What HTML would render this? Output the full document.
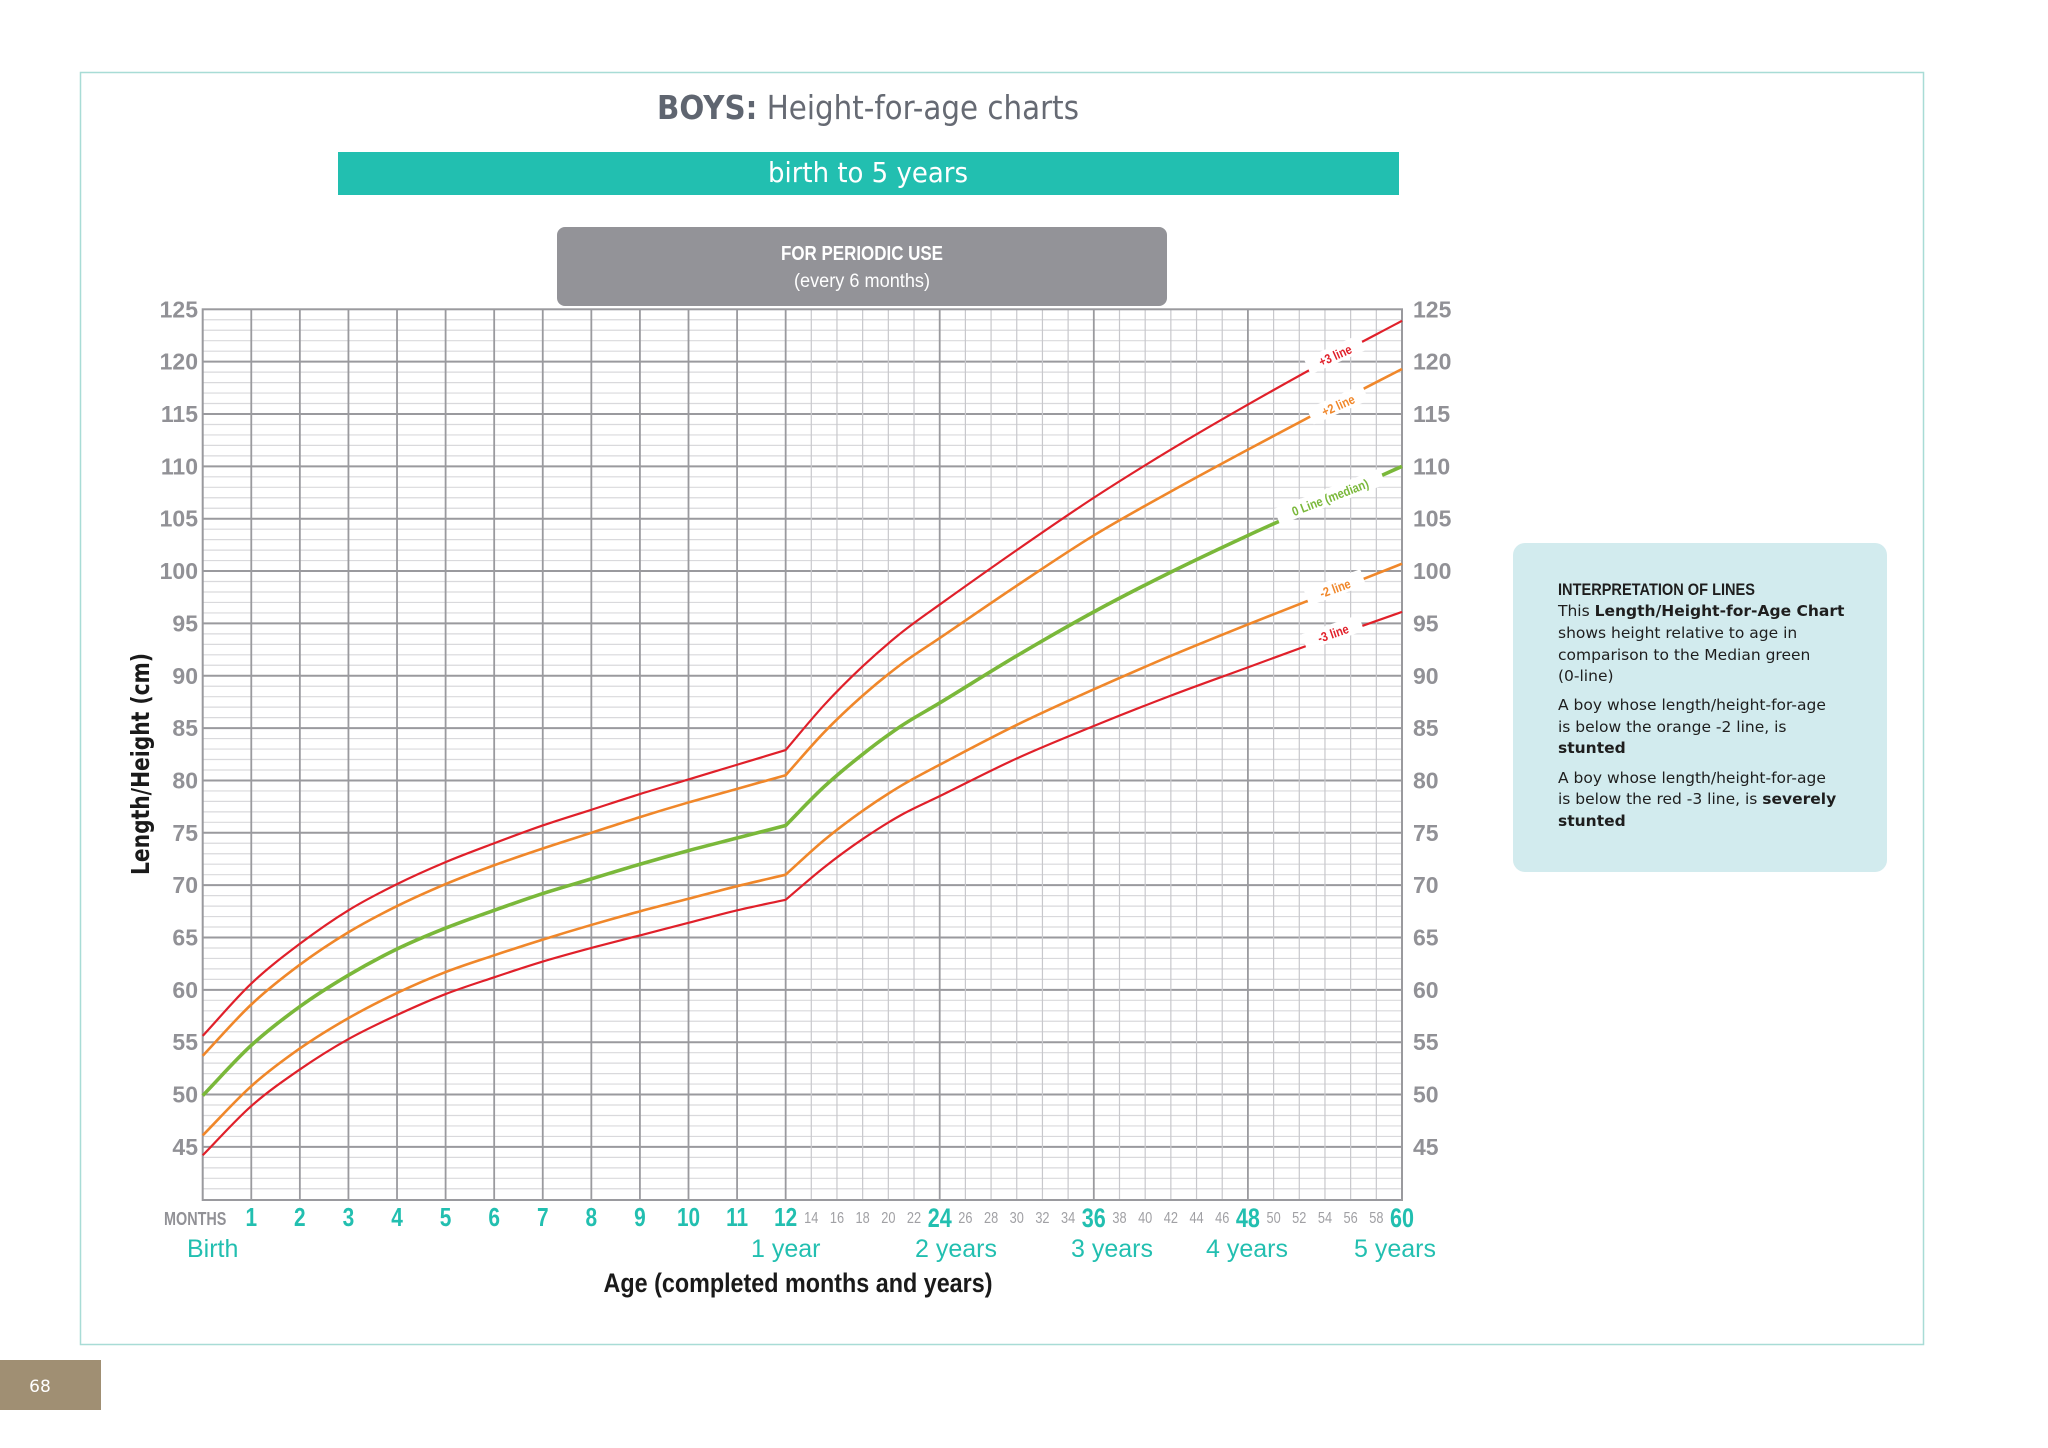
<!DOCTYPE html>
<html><head><meta charset="utf-8"><style>
html,body{margin:0;padding:0;background:#fff;width:2048px;height:1448px;overflow:hidden}
svg{display:block}
.cn{font-family:"Liberation Sans Narrow","Liberation Sans",sans-serif}
.ls{font-family:"Liberation Sans",sans-serif}
.dv{font-family:"DejaVu Sans","Liberation Sans",sans-serif}
</style></head><body>
<svg id="s" width="2048" height="1448" viewBox="0 0 2048 1448" xmlns="http://www.w3.org/2000/svg">
<rect x="80.5" y="72.5" width="1843" height="1272" fill="none" stroke="#a8dcd6" stroke-width="1.5"/>
<text x="657" y="119" font-size="33" fill="#666a73" class="dv" textLength="422" lengthAdjust="spacingAndGlyphs"><tspan font-weight="bold" fill="#5f6570">BOYS:</tspan> Height-for-age charts</text>
<rect x="338" y="152" width="1061" height="43" fill="#22bfb0"/>
<text x="868" y="182" text-anchor="middle" font-size="28" fill="#fff" class="dv" textLength="200" lengthAdjust="spacingAndGlyphs">birth to 5 years</text>
<rect x="557" y="227" width="610" height="79" rx="8" fill="#939398"/>
<text x="862" y="260" text-anchor="middle" font-size="20" font-weight="bold" fill="#fff" class="cn" textLength="162" lengthAdjust="spacingAndGlyphs">FOR PERIODIC USE</text>
<text x="862" y="287" text-anchor="middle" font-size="19" fill="#fff" class="cn" textLength="136" lengthAdjust="spacingAndGlyphs">(every 6 months)</text>
<g id="grid"></g>
<g id="curves"></g>
<g id="labels"></g>
<text transform="translate(149,764) rotate(-90)" text-anchor="middle" font-size="25" font-weight="bold" fill="#1a1a1a" class="dv" textLength="222" lengthAdjust="spacingAndGlyphs">Length/Height (cm)</text>
<text x="798" y="1292" text-anchor="middle" font-size="27" font-weight="bold" fill="#1a1a1a" class="cn" textLength="389" lengthAdjust="spacingAndGlyphs">Age (completed months and years)</text>
<g font-size="25" fill="#22bfb0" class="ls">
<text x="187" y="1257">Birth</text>
<text x="751" y="1257">1 year</text>
<text x="915" y="1257">2 years</text>
<text x="1071" y="1257">3 years</text>
<text x="1206" y="1257">4 years</text>
<text x="1354" y="1257">5 years</text>
</g>
<rect x="1513" y="543" width="374" height="329" rx="12" fill="#d2ebee"/>
<g font-size="15.5" fill="#1e1e1e" class="dv">
<text x="1558" y="595" font-weight="bold" class="ls" font-size="17" textLength="197" lengthAdjust="spacingAndGlyphs">INTERPRETATION OF LINES</text>
<text x="1558" y="616">This <tspan font-weight="bold">Length/Height-for-Age Chart</tspan></text>
<text x="1558" y="638">shows height relative to age in</text>
<text x="1558" y="660">comparison to the Median green</text>
<text x="1558" y="681">(0-line)</text>
<text x="1558" y="710">A boy whose length/height-for-age</text>
<text x="1558" y="732">is below the orange -2 line, is</text>
<text x="1558" y="753" font-weight="bold">stunted</text>
<text x="1558" y="783">A boy whose length/height-for-age</text>
<text x="1558" y="804">is below the red -3 line, is <tspan font-weight="bold">severely</tspan></text>
<text x="1558" y="826" font-weight="bold">stunted</text>
</g>
<rect x="0" y="1360" width="101" height="50" fill="#a08f73"/>
<text x="40" y="1392" text-anchor="middle" font-size="17" fill="#fff" class="dv">68</text>
</svg>
<script>
var NS="http://www.w3.org/2000/svg";
function X(m){return m<=12?202.7+m*48.58:785.6+(m-12)*12.842;}
function Y(h){return 309.3+(125-h)*10.47;}
function el(p,t,a,txt){var e=document.createElementNS(NS,t);for(var k in a)e.setAttribute(k,a[k]);if(txt!==undefined)e.textContent=txt;document.getElementById(p).appendChild(e);return e;}
var L=202.7,R=1402,T=309.3,B=1200;
for(var h=40;h<=125;h++){var y=Y(h);var maj=h%5==0;
 if(h==40||h==125)continue;
 el("grid","line",{x1:L,x2:R,y1:y,y2:y,stroke:maj?"#9a9a9e":"#d9d9dc","stroke-width":maj?2:1.2});}
for(var m=1;m<12;m++)el("grid","line",{x1:X(m),x2:X(m),y1:T,y2:B,stroke:"#9a9a9e","stroke-width":1.8});
for(var m=14;m<60;m+=2){var maj=m%12==0;el("grid","line",{x1:X(m),x2:X(m),y1:T,y2:B,stroke:maj?"#9a9a9e":"#c8c8cc","stroke-width":maj?1.8:1.2});}
el("grid","line",{x1:X(12),x2:X(12),y1:T,y2:B,stroke:"#9a9a9e","stroke-width":1.8});
el("grid","rect",{x:L,y:T,width:R-L,height:B-T,fill:"none",stroke:"#9a9a9e","stroke-width":2});
for(var h=45;h<=125;h+=5){var y=Y(h)+8;
 el("labels","text",{x:198,y:y,"text-anchor":"end","font-size":23,"font-weight":"bold",fill:"#919196","class":"ls"},String(h));
 el("labels","text",{x:1413,y:y,"font-size":23,"font-weight":"bold",fill:"#919196","class":"ls"},String(h));}
var narrow=[];
narrow.push(el("labels","text",{x:164,y:1225,"font-size":18,"font-weight":"bold",fill:"#919196","class":"cn"},"MONTHS"));
for(var m=1;m<=12;m++)narrow.push(el("labels","text",{x:X(m),y:1226,"text-anchor":"middle","font-size":26,"font-weight":"bold",fill:"#22bfb0","class":"cn"},String(m)));
for(var m=14;m<=60;m+=2){var maj=m%12==0;
 narrow.push(el("labels","text",{x:X(m),y:maj?1227:1223,"text-anchor":"middle","font-size":maj?27:16,"font-weight":maj?"bold":"normal",fill:maj?"#22bfb0":"#a0a0a4","class":"cn"},String(m)));}
narrow.forEach(function(t){try{var w=t.getComputedTextLength();t.setAttribute("textLength",(w*0.8).toFixed(1));t.setAttribute("lengthAdjust","spacingAndGlyphs");}catch(e){}});
var m1=[0,1,2,3,4,5,6,7,8,9,10,11,12],m2=[12,15,18,21,24,30,36,42,48,54,60];
var S=[
 {c:"#e0202a",w:2.2,a:[44.2,48.9,52.4,55.3,57.6,59.6,61.2,62.7,64.0,65.2,66.4,67.6,68.6],b:[68.6,71.7,74.4,76.7,78.5,82.1,85.2,88.1,90.8,93.5,96.1]},
 {c:"#f0872a",w:2.6,a:[46.1,50.8,54.4,57.3,59.7,61.7,63.3,64.8,66.2,67.5,68.7,69.9,71.0],b:[71.0,74.3,77.1,79.5,81.5,85.3,88.7,91.9,94.9,97.8,100.7]},
 {c:"#7ab83a",w:3.6,a:[49.9,54.7,58.4,61.4,63.9,65.9,67.6,69.2,70.6,72.0,73.3,74.5,75.7],b:[75.7,79.4,82.5,85.2,87.4,91.9,96.1,99.9,103.4,106.7,110.0]},
 {c:"#f0872a",w:2.6,a:[53.7,58.6,62.4,65.5,68.0,70.1,71.9,73.5,75.0,76.5,77.9,79.2,80.5],b:[80.5,84.6,88.1,91.1,93.6,98.6,103.4,107.6,111.6,115.5,119.3]},
 {c:"#e0202a",w:2.2,a:[55.6,60.6,64.4,67.6,70.1,72.2,74.0,75.7,77.2,78.7,80.1,81.5,82.9],b:[82.9,87.2,90.9,94.1,96.8,102.0,107.0,111.6,115.9,120.0,123.9]}
];
function herm(ms,hs){var p=ms.map(function(m,i){return[X(m),Y(hs[i])];});var n=p.length,s=[];
 for(var i=0;i<n;i++){var a=p[Math.max(0,i-1)],b=p[Math.min(n-1,i+1)];s.push((b[1]-a[1])/(b[0]-a[0]));}
 var d="";
 for(var i=0;i<n-1;i++){var dx=(p[i+1][0]-p[i][0])/3;
  d+=" C"+(p[i][0]+dx)+","+(p[i][1]+s[i]*dx)+" "+(p[i+1][0]-dx)+","+(p[i+1][1]-s[i+1]*dx)+" "+p[i+1][0]+","+p[i+1][1];}
 return {start:p[0],d:d};}
S.forEach(function(s){var A=herm(m1,s.a),Bc=herm(m2,s.b);
 el("curves","path",{d:"M"+A.start[0]+","+A.start[1]+A.d+Bc.d,fill:"none",stroke:s.c,"stroke-width":s.w,"stroke-linejoin":"round"});});
var LB=[["+3 line",1335,355,-24,"#e0202a"],["+2 line",1338,405,-24,"#f0872a"],["0 Line (median)",1330,497,-21,"#7ab83a"],["-2 line",1335,588,-20,"#f0872a"],["-3 line",1333,633,-19,"#e0202a"]];
LB.forEach(function(l){var w=l[0].length*6.6+14;
 var g=el("curves","g",{transform:"translate("+l[1]+","+l[2]+") rotate("+l[3]+")"});
 var r=document.createElementNS(NS,"rect");r.setAttribute("x",-w/2);r.setAttribute("y",-9);r.setAttribute("width",w);r.setAttribute("height",17);r.setAttribute("fill","#fff");g.appendChild(r);
 var t=document.createElementNS(NS,"text");t.setAttribute("text-anchor","middle");t.setAttribute("y",5);t.setAttribute("font-size",13);t.setAttribute("font-weight","bold");t.setAttribute("fill",l[4]);t.setAttribute("class","cn");t.textContent=l[0];g.appendChild(t);
 try{var tw=t.getComputedTextLength();t.setAttribute("textLength",(tw*0.85).toFixed(1));t.setAttribute("lengthAdjust","spacingAndGlyphs");}catch(e){}});
</script>
</body></html>
